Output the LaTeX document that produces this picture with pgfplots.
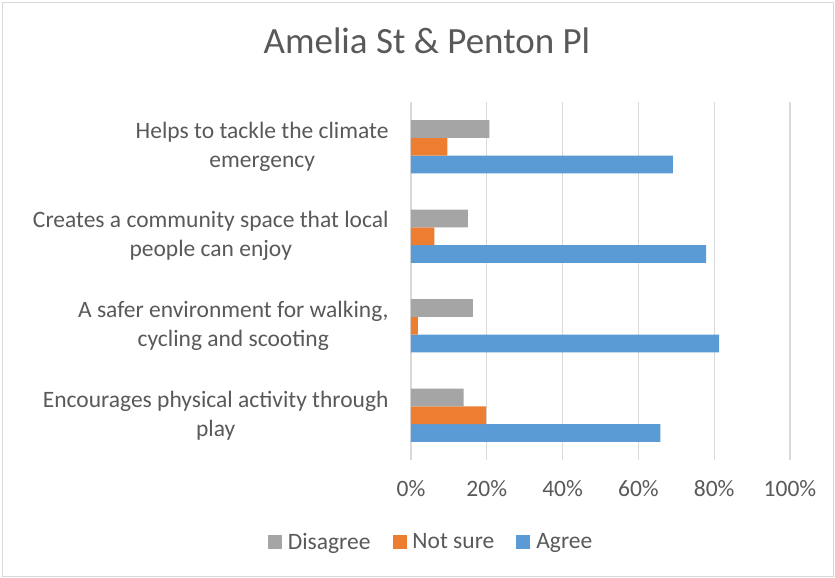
\documentclass[border=0pt]{standalone}
\usepackage{pgfplots}
\pgfplotsset{compat=1.18}
\usepackage{fontspec}
\setmainfont{Carlito}
\definecolor{cgray}{HTML}{A5A5A5}
\definecolor{corange}{HTML}{ED7D31}
\definecolor{cblue}{HTML}{5B9BD5}
\definecolor{ctext}{HTML}{595959}
\definecolor{cgrid}{HTML}{D9D9D9}
\begin{document}
\begin{tikzpicture}
\useasboundingbox (-411bp,-118bp) rectangle (424bp,460bp);
\draw[cgrid, line width=0.8bp] (-409bp,-116bp) rectangle (422bp,458bp);
\begin{axis}[
  at={(0,0)}, anchor=south west,
  scale only axis,
  width=379bp, height=358bp,
  xbar=0pt, bar width=17.7bp,
  xmin=0, xmax=100,
  ymin=-0.5, ymax=3.5,
  xtick={0,20,40,60,80,100},
  xticklabel={\pgfmathprintnumber{\tick}\%},
  /pgf/number format/assume math mode=true,
  ytick={0,1,2,3},
  yticklabels={{Encourages physical activity through\\play},
               {A safer environment for walking,\\cycling and scooting},
               {Creates a community space that local\\people can enjoy},
               {Helps to tackle the climate\\emergency}},
  yticklabel style={align=center, font=\fontsize{23.5bp}{29bp}\selectfont, text=ctext, xshift=-19bp},
  xticklabel style={font=\fontsize{23.5bp}{27bp}\selectfont, text=ctext, yshift=-17bp},
  major tick length=0pt,
  axis line style={draw=none},
  xmajorgrids, grid style={cgrid, line width=1.2bp},
  legend style={at={(0.053,-0.229)}, anchor=center, draw=none, legend columns=3,
     font=\fontsize{23.5bp}{27bp}\selectfont, text=ctext,
     /tikz/every even column/.append style={column sep=20bp}},
  legend image code/.code={\fill[#1] (0bp,-7bp) rectangle (14bp,7bp);},
  reverse legend,
  title={Amelia St \& Penton Pl},
  title style={font=\fontsize{37bp}{40bp}\selectfont, text=ctext, at={(0.042,1.154)}, anchor=center},
]
\addplot[fill=cblue, draw=none] coordinates {(65.8,0) (81.3,1) (77.9,2) (69.1,3)};
\addlegendentry{\hspace{4bp}Agree}
\addplot[fill=corange, draw=none] coordinates {(19.8,0) (1.8,1) (6.2,2) (9.6,3)};
\addlegendentry{\hspace{4bp}Not sure}
\addplot[fill=cgray, draw=none] coordinates {(13.9,0) (16.3,1) (15.0,2) (20.7,3)};
\addlegendentry{\hspace{4bp}Disagree}
\end{axis}
\end{tikzpicture}
\end{document}
